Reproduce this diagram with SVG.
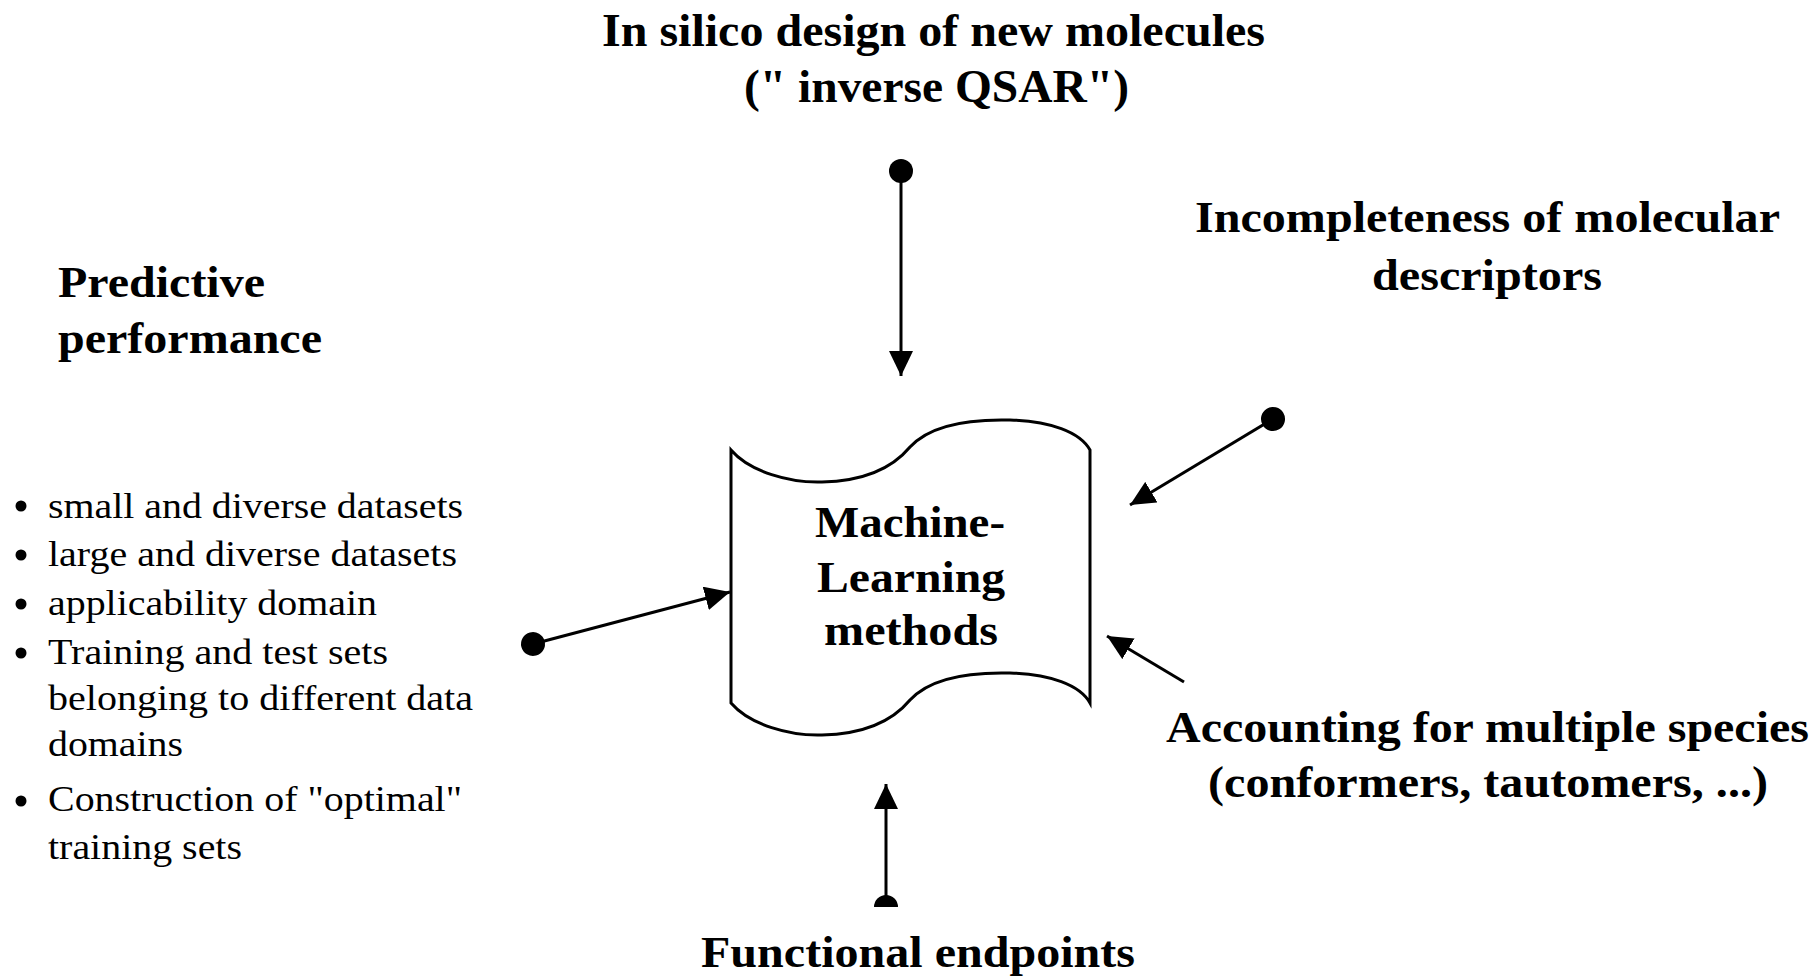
<svg xmlns="http://www.w3.org/2000/svg" width="1816" height="978" viewBox="0 0 1816 978">
<style>
.b{font-family:"Liberation Serif","Times New Roman",serif;font-weight:bold;fill:#000}
.t{font-family:"Liberation Serif","Times New Roman",serif;font-size:36px;fill:#000}
.c{stroke:#000;stroke-width:3;fill:none}
</style>
<defs>
<marker id="ah" markerUnits="userSpaceOnUse" viewBox="0 0 25 24" markerWidth="25" markerHeight="24" refX="25" refY="12" orient="auto"><path d="M0,0 L25,12 L0,24 Z" fill="#000"/></marker>
<marker id="dot" markerUnits="userSpaceOnUse" viewBox="0 0 26 26" markerWidth="26" markerHeight="26" refX="13" refY="13" orient="auto"><circle cx="13" cy="13" r="12" fill="#000"/></marker>
</defs>
<rect width="1816" height="978" fill="#fff"/>
<g id="ml-node">
<path d="M731,450 C750,472 790,483 822,482 C870,481 895,465 910,447 C930,425 970,419 1010,420 C1050,421 1080,432 1090,450 L1090,703 C1080,685 1050,674 1010,673 C970,672 930,678 910,700 C895,718 870,734 822,735 C790,736 750,725 731,703 Z" fill="#fff" stroke="#000" stroke-width="3"/>
<text class="b" font-size="44" x="815" y="537" textLength="190" lengthAdjust="spacingAndGlyphs">Machine-</text>
<text class="b" font-size="44" x="817" y="592" textLength="188" lengthAdjust="spacingAndGlyphs">Learning</text>
<text class="b" font-size="44" x="824" y="645" textLength="174" lengthAdjust="spacingAndGlyphs">methods</text>
</g>
<g id="insilico">
<text class="b" font-size="46" x="602" y="46" textLength="663" lengthAdjust="spacingAndGlyphs">In silico design of new molecules</text>
<text class="b" font-size="46" x="744" y="102" textLength="385" lengthAdjust="spacingAndGlyphs">(" inverse QSAR")</text>
</g>
<g id="incompleteness">
<text class="b" font-size="44" x="1195" y="232" textLength="585" lengthAdjust="spacingAndGlyphs">Incompleteness of molecular</text>
<text class="b" font-size="44" x="1372" y="290" textLength="230" lengthAdjust="spacingAndGlyphs">descriptors</text>
</g>
<g id="predictive">
<text class="b" font-size="44" x="58" y="297" textLength="207" lengthAdjust="spacingAndGlyphs">Predictive</text>
<text class="b" font-size="44" x="58" y="353" textLength="264" lengthAdjust="spacingAndGlyphs">performance</text>
<g fill="#000">
<circle cx="21" cy="506" r="5.5"/><circle cx="21" cy="555" r="5.5"/><circle cx="21" cy="604" r="5.5"/><circle cx="21" cy="653" r="5.5"/><circle cx="21" cy="801" r="5.5"/>
</g>
<text class="t" x="48" y="518" textLength="415" lengthAdjust="spacingAndGlyphs">small and diverse datasets</text>
<text class="t" x="48" y="566" textLength="409" lengthAdjust="spacingAndGlyphs">large and diverse datasets</text>
<text class="t" x="48" y="615" textLength="329" lengthAdjust="spacingAndGlyphs">applicability domain</text>
<text class="t" x="48" y="664" textLength="340" lengthAdjust="spacingAndGlyphs">Training and test sets</text>
<text class="t" x="48" y="710" textLength="425" lengthAdjust="spacingAndGlyphs">belonging to different data</text>
<text class="t" x="48" y="756" textLength="135" lengthAdjust="spacingAndGlyphs">domains</text>
<text class="t" x="48" y="811" textLength="414" lengthAdjust="spacingAndGlyphs">Construction of "optimal"</text>
<text class="t" x="48" y="859" textLength="194" lengthAdjust="spacingAndGlyphs">training sets</text>
</g>
<g id="accounting">
<text class="b" font-size="44" x="1166" y="742" textLength="643" lengthAdjust="spacingAndGlyphs">Accounting for multiple species</text>
<text class="b" font-size="44" x="1208" y="797" textLength="560" lengthAdjust="spacingAndGlyphs">(conformers, tautomers, ...)</text>
</g>
<g id="functional">
<text class="b" font-size="44" x="701" y="967" textLength="434" lengthAdjust="spacingAndGlyphs">Functional endpoints</text>
</g>
<g id="connectors">
<line class="c" x1="901" y1="171" x2="901" y2="376" marker-start="url(#dot)" marker-end="url(#ah)"/>
<line class="c" x1="1273" y1="419" x2="1130" y2="505" marker-start="url(#dot)" marker-end="url(#ah)"/>
<line class="c" x1="1184" y1="682" x2="1107" y2="636" marker-end="url(#ah)"/>
<line class="c" x1="533" y1="644" x2="730" y2="592" marker-start="url(#dot)" marker-end="url(#ah)"/>
<line class="c" x1="886" y1="900" x2="886" y2="784" marker-end="url(#ah)"/>
<path d="M874,907 A12,12 0 0 1 898,907 Z" fill="#000"/>
</g>
</svg>
